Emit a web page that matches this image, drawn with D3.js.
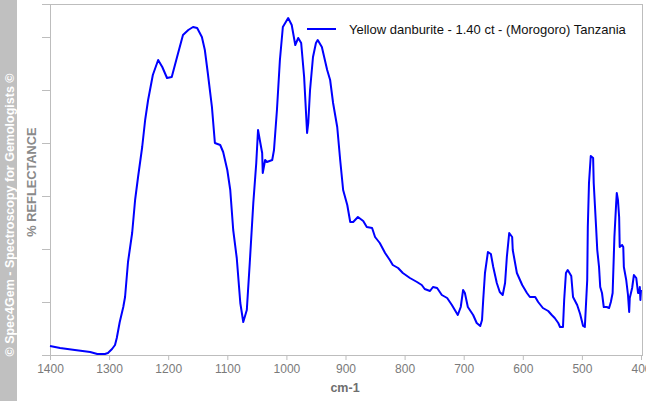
<!DOCTYPE html>
<html>
<head>
<meta charset="utf-8">
<script src="https://cdn.jsdelivr.net/npm/d3@7"></script>
<style>
html,body{margin:0;padding:0;background:#fff;}
svg{display:block;font-family:Arial,"Liberation Sans",sans-serif;}
</style>
</head>
<body>
<svg id="chart" width="646" height="401"></svg>
<script>
const wavenumbers = [1400,1383,1358,1332,1320,1307,1302,1295,1290,1287,1282,1276,1273,1268,1261,1256,1251,1244,1239,1234,1226,1217,1210,1202,1194,1185,1175,1166,1158,1151,1143,1138,1133,1126,1121,1112,1107,1100,1095,1090,1084,1078,1073,1067,1062,1056,1051,1048,1045,1041,1040,1036,1033,1024,1021,1016,1011,1006,997,991,985,980,975,970,965,963,960,955,950,947,940,931,926,921,914,909,904,897,892,887,879,870,864,855,850,842,833,825,820,811,803,791,779,771,766,757,752,745,737,728,720,715,710,705,701,698,693,684,678,672,669,667,664,659,654,650,644,639,634,630,627,623,618,617,610,601,593,588,579,574,566,557,551,546,540,537,532,530,527,524,518,515,508,503,498,495,491,490,488,485,481,480,476,474,471,469,466,463,458,454,451,448,445,442,441,439,437,436,432,430,429,425,422,420,419,415,412,408,405,403,402,401,400];
const reflectance = [9,7,5,3,1,1,2,6,10,17,33,48,58,93,122,155,178,208,235,255,280,295,288,277,278,298,320,325,328,327,318,305,282,248,212,210,203,185,165,125,97,52,33,45,92,152,192,225,215,202,182,195,193,195,205,245,295,328,337,330,310,317,312,278,222,232,265,298,312,315,308,285,275,252,228,195,165,150,133,133,138,134,128,127,118,112,102,95,90,87,82,77,73,70,66,64,68,67,60,57,50,45,40,48,65,62,48,40,32,29,35,55,82,103,101,88,72,63,60,72,98,122,118,105,82,70,62,58,58,53,47,44,40,37,32,28,28,55,82,85,79,58,50,41,29,28,75,128,172,199,197,172,128,105,88,68,62,48,48,47,53,62,118,152,162,155,138,108,110,108,88,75,60,43,57,67,80,77,62,62,68,55,65];
const xTicks = [1400,1300,1200,1100,1000,900,800,700,600,500,400];
const yTicks = [0,53,106,159,212,265,318];
const seriesName = "Yellow danburite - 1.40 ct - (Morogoro) Tanzania";

const svg = d3.select("#chart");
const L = 50, R = 641, T = 4, B = 355;
const x = d3.scaleLinear().domain([1400, 400]).range([L, R]);
const y = d3.scaleLinear().domain([0, 351]).range([B, T]);
const gray = "#bdbdbd";

// sidebar watermark
svg.append("rect").attr("x",0).attr("y",0).attr("width",17).attr("height",401).attr("fill","#c0c0c0");
svg.append("text").attr("transform","translate(13.5,215) rotate(-90)")
  .attr("text-anchor","middle").attr("fill","#fff").attr("font-weight","bold").attr("font-size",12.5)
  .text("© Spec4Gem - Spectroscopy for Gemologists ©");

// frame
svg.append("rect").attr("x",L).attr("y",T).attr("width",642-L).attr("height",B-T)
  .attr("fill","none").attr("stroke",gray).attr("stroke-width",1).attr("shape-rendering","crispEdges");

// x axis
const xAxis = d3.axisBottom(x).tickValues(xTicks).tickSize(5).tickPadding(4).tickFormat(d3.format("d"));
const gx = svg.append("g").attr("transform",`translate(0,${B})`).call(xAxis);
gx.select(".domain").attr("stroke",gray);
gx.selectAll(".tick line").attr("stroke",gray);
gx.selectAll(".tick text").attr("fill","#7a7a7a").attr("font-size",12).attr("font-family","Arial,'Liberation Sans',sans-serif");

// y axis
const yAxis = d3.axisLeft(y).tickValues(yTicks).tickSize(8).tickFormat("");
const gy = svg.append("g").attr("transform",`translate(${L},0)`).call(yAxis);
gy.select(".domain").attr("stroke",gray);
gy.selectAll(".tick line").attr("stroke",gray);

// axis titles
svg.append("text").attr("x",345).attr("y",392).attr("text-anchor","middle")
  .attr("fill","#6e6e6e").attr("font-weight","bold").attr("font-size",12.5).text("cm-1");
svg.append("text").attr("transform","translate(35.5,182) rotate(-90)").attr("text-anchor","middle")
  .attr("fill","#8a8a8a").attr("font-weight","bold").attr("font-size",12.8).text("% REFLECTANCE");

// line
const data = wavenumbers.map((w,i)=>({w, v: reflectance[i]}));
const line = d3.line().x(d=>x(d.w)).y(d=>y(d.v));
svg.append("path").datum(data).attr("d",line).attr("fill","none")
  .attr("stroke","#0000ff").attr("stroke-width",2).attr("stroke-linejoin","round");

// legend
svg.append("line").attr("x1",307).attr("x2",336).attr("y1",29).attr("y2",29)
  .attr("stroke","#0000ff").attr("stroke-width",2);
svg.append("text").attr("x",349).attr("y",33.5).attr("font-size",13).attr("fill","#111").text(seriesName);
</script>
</body>
</html>
